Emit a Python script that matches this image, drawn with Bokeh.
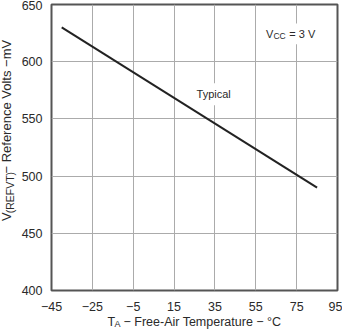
import math
from bokeh.plotting import figure
from bokeh.models import Range1d, FixedTicker, Label, ColumnDataSource, BoxAnnotation
from bokeh.layouts import column, row
from bokeh.core.properties import value
from bokeh.embed import file_html
from bokeh.resources import INLINE

# ---- data ----
temp_c = [-40, 85]
vref_mv = [630, 490]
x_ticks = [-45, -25, -5, 15, 35, 55, 75, 95]
y_ticks = [400, 450, 500, 550, 600, 650]
x_tick_labels = ["\u221245", "\u221225", "\u22125", "15", "35", "55", "75", "95"]
y_tick_labels = ["400", "450", "500", "550", "600", "650"]

FONT = "Liberation Sans"
TXT = "#2a2a2a"
BL = 4.5  # empirical baseline correction (px)

YL_W = 18      # width of the y-title strip
MAIN_H = 313   # height of the main figure
XL_H = 16      # height of the x-title strip

p = figure(width=342 - YL_W, height=MAIN_H, output_backend="svg", toolbar_location=None,
           x_range=Range1d(-45, 95), y_range=Range1d(400, 650),
           min_border_left=49 - YL_W, min_border_right=5, min_border_top=4,
           min_border_bottom=MAIN_H - 291)
p.background_fill_color = "white"
p.border_fill_color = "white"
p.outline_line_color = "#555555"
p.outline_line_width = 2

for ax, ticks, labels in ((p.xaxis[0], x_ticks, x_tick_labels), (p.yaxis[0], y_ticks, y_tick_labels)):
    ax.ticker = FixedTicker(ticks=ticks)
    ax.major_label_overrides = {t: l for t, l in zip(ticks, labels)}
    ax.axis_line_color = None
    ax.major_tick_line_color = None
    ax.minor_tick_line_color = None
    ax.major_label_text_font = FONT
    ax.major_label_text_font_size = "12.5px"
    ax.major_label_text_color = TXT
p.xaxis.major_label_standoff = 5
p.yaxis.major_label_standoff = 3

p.xgrid.ticker = FixedTicker(ticks=x_ticks)
p.ygrid.ticker = FixedTicker(ticks=y_ticks)
p.grid.grid_line_color = "#ababab"
p.grid.grid_line_width = 1

src = ColumnDataSource(dict(t=temp_c, v=vref_mv))
p.line("t", "v", source=src, line_color="#222222", line_width=2)

# pixel -> data helpers (frame: left 49, right 337, top 4, bottom 291 in window pixels)
def dx(px):
    return -45 + (px - 49) * 140 / 288

def dy(py):
    return 650 - (py - 4) * 250 / 287

def lab(text, px, py, size, bg=False, pad=0):
    kw = {}
    if bg:
        kw = dict(background_fill_color="white", padding=pad)
    p.add_layout(Label(x=dx(px), y=dy(py), text=text,
                       text_font=FONT, text_font_size=size, text_color=TXT,
                       text_align="left", text_baseline="alphabetic", **kw))

lab("Typical", 190, 94, "11px", bg=True, pad=5)
p.add_layout(BoxAnnotation(left=dx(258), right=dx(320), top=dy(23), bottom=dy(44),
                           fill_color="white", fill_alpha=1, line_color=None))
lab("V", 265, 38 - BL, "11px")
lab("CC", 272.5, 40.5 - BL, "8.5px")
lab("= 3 V", 288.5, 38 - BL, "11px")

# ---- y-axis title strip ----
yl = figure(width=YL_W, height=MAIN_H, output_backend="svg", toolbar_location=None,
            x_range=Range1d(0, YL_W), y_range=Range1d(0, MAIN_H),
            x_axis_location=None, y_axis_location=None, min_border=0)
yl.outline_line_color = None
yl.grid.visible = False
a = math.pi / 2
for text, px, py, size in (("V", 10.5, 237, "13px"),
                           ("(REFVT)", 14, 228.5, "10.5px"),
                           ("\u2212 Reference Volts \u2212mV", 10.5, 185, "13px")):
    yl.text(x=[px - BL], y=[MAIN_H - py], text=[text], angle=a,
            text_font=value(FONT), text_font_size=value(size), text_color=TXT,
            text_align="left", text_baseline="alphabetic")

# ---- x-axis title strip ----
xl = figure(width=342, height=XL_H, output_backend="svg", toolbar_location=None,
            x_range=Range1d(0, 342), y_range=Range1d(0, XL_H),
            x_axis_location=None, y_axis_location=None, min_border=0)
xl.outline_line_color = None
xl.grid.visible = False
top = MAIN_H + XL_H
for text, px, py, size in (("T", 107, 326, "12.5px"),
                           ("A", 114, 328, "9px"),
                           ("\u2212 Free-Air Temperature \u2212 \u00b0C", 123, 326, "12.5px")):
    xl.text(x=[px], y=[top - (py - BL)], text=[text],
            text_font=value(FONT), text_font_size=value(size), text_color=TXT,
            text_align="left", text_baseline="alphabetic")

layout = column(row(yl, p), xl)
open("out.html", "w").write(file_html(layout, INLINE))
